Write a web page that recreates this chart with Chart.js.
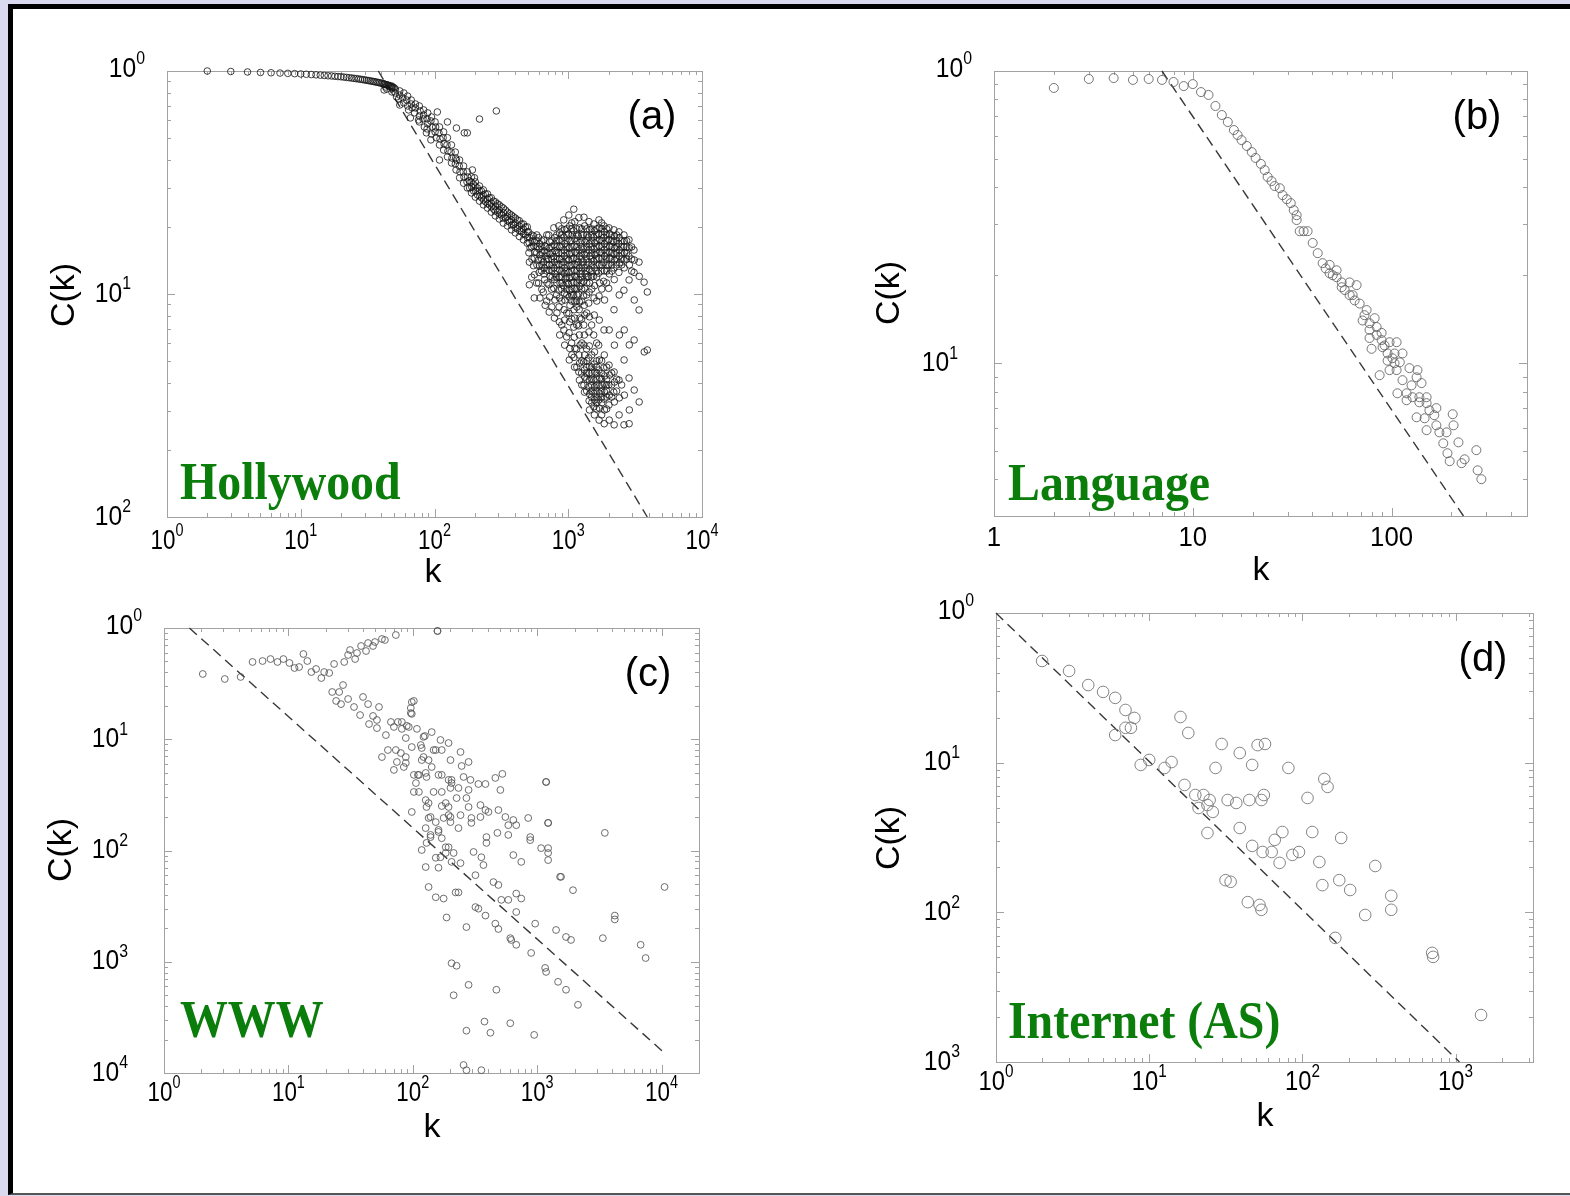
<!DOCTYPE html>
<html>
<head>
<meta charset="utf-8">
<title>C(k) versus k</title>
<script src="https://cdn.jsdelivr.net/npm/chart.js@4.4.1/dist/chart.umd.min.js"></script>
<style>
  html, body { margin: 0; padding: 0; width: 1570px; height: 1196px; overflow: hidden; background: #d9d9f0; }
  #sheet { position: absolute; left: 8px; top: 4px; width: 1562px; height: 1191px; box-sizing: border-box;
           background: #fff; border-left: 5px solid #000; border-top: 5px solid #000; border-bottom: 2px solid #555; }
  canvas { position: absolute; left: 0; top: 0; }
</style>
</head>
<body>
<div id="sheet"></div>
<canvas id="pa" width="1570" height="1196"></canvas>
<canvas id="pb" width="1570" height="1196"></canvas>
<canvas id="pc" width="1570" height="1196"></canvas>
<canvas id="pd" width="1570" height="1196"></canvas>
<script>
// ---------- data: [k, C(k)] ----------
const hollywood = [
  [2,1],[3,.995],[4,.99],[5,.985],[6,.982],[7,.979],[8,.976],[9,.973],[10,.97],[11,.967],[12,.964],[13,.961],
  [14,.958],[15,.955],[16,.952],[17,.95],[18,.947],[19,.944],[20,.942],[21,.939],[22,.936],[23,.933],[24,.93],
  [25,.927],[26,.924],[27,.921],[28,.918],[29,.915],[30,.912],[31,.909],[32,.906],[33,.903],[34,.9],[35,.897],
  [36,.894],[37,.891],[38,.888],[39,.885],[40,.882],[41,.878],[42,.874],[43,.87],[44,.866],[45,.862],[46,.858],
  [47,.853],[48,.849],[49,.845],[50,.84],
  [42,.874],[43,.848],[42,.822],[45,.865],[44,.83],[48,.856],[48,.806],[48,.839],[51,.83],[51,.797],[52,.765],
  [55,.814],[55,.78],[54,.749],[55,.704],[59,.797],[58,.757],[59,.719],[63,.772],[62,.741],[63,.697],[64,.669],
  [67,.741],[67,.711],[68,.683],[66,.616],[72,.711],[72,.683],[71,.649],[77,.697],[78,.662],[77,.629],[76,.603],
  [83,.669],[83,.635],[82,.61],[84,.561],[89,.649],[88,.61],[89,.579],[88,.55],
  [95,.622],[94,.597],[96,.561],[95,.522],[94,.491],[101,.591],[102,.561],[101,.533],[103,.502],
  [109,.561],[108,.528],[110,.496],[109,.466],[117,.533],[116,.502],[118,.471],[117,.442],
  [125,.502],[124,.466],[126,.438],[125,.412],[134,.466],[133,.433],[135,.407],[134,.387],
  [143,.433],[144,.407],[143,.383],[145,.36],[154,.399],[153,.375],[155,.353],[154,.332],
  [165,.375],[164,.353],[166,.335],[165,.314],[176,.353],[177,.335],[175,.318],[176,.299],
  [189,.335],[188,.318],[190,.302],[189,.284],[202,.318],[201,.305],[203,.29],[202,.272],
  [217,.305],[216,.29],[218,.275],[217,.261],[232,.293],[231,.278],[233,.264],[232,.251],
  [249,.281],[248,.267],[250,.254],[249,.243],[266,.27],[265,.256],[267,.246],[266,.233],
  [285,.259],[286,.248],[284,.236],[285,.224],[305,.251],[304,.238],[306,.228],[305,.217],
  [327,.243],[328,.231],[326,.219],[327,.208],[351,.233],[350,.222],[352,.213],[351,.202],
  [376,.226],[375,.215],[377,.204],[376,.194],[402,.219],[401,.208],[403,.198],[402,.188],
  [431,.213],[430,.202],[432,.192],[431,.181],[462,.206],[461,.196],[463,.186],[462,.175],
  [494,.2],[493,.19],[495,.179],[494,.169],
  [182,.322],[183,.299],[195,.311],[196,.29],[209,.299],[210,.278],[224,.29],[225,.27],[240,.281],[241,.259],
  [257,.27],[258,.251],[276,.261],[277,.24],[295,.254],[296,.233],[316,.246],[317,.226],[339,.238],[340,.219],
  [363,.229],[364,.2106],[389,.222],[390,.204],[416,.215],[417,.196],[446,.2061],[447,.19],[478,.1998],[479,.184],
  [217,.609],[290,.662],[125,.591],[167,.528],[146,.555],[176,.528],[105,.655],[77,.591],[87,.528],
  [146,.399],[192,.36],[199,.332],[109,.399],
  [505,.19],[515,.179],[510,.17],[518,.161],[508,.153],[512,.139],[512,.11],
  [534,.184],[536,.173],[532,.163],[535,.1435],[533,.119],
  [550,.182],[560,.171],[553,.164],[562,.154],[556,.145],[549,.134],[558,.122],[557,.096],
  [582,.184],[580,.173],[584,.163],[581,.153],[583,.135],[580,.112],
  [600,.179],[612,.168],[604,.159],[615,.15],[598,.142],[610,.134],[606,.125],[600,.112],[614,.096],
  [634,.173],[632,.163],[636,.153],[633,.1435],[635,.135],[631,.127],[634,.105],
  [655,.175],[668,.164],[660,.156],[670,.148],[652,.139],[664,.131],[658,.123],[666,.116],[650,.102],[672,.089],
  [691,.184],[689,.163],[693,.153],[690,.1435],[692,.135],[688,.127],[694,.112],[690,.093],
  [715,.184],[728,.171],[720,.161],[730,.151],[712,.1435],[725,.135],[718,.128],[732,.12],[716,.11],[726,.097],[720,.083],
  [754,.173],[752,.163],[756,.153],[751,.1435],[755,.135],[753,.127],[757,.119],[750,.105],[754,.0875],
  [780,.198],[792,.179],[784,.166],[795,.156],[778,.147],[790,.139],[782,.131],[796,.123],[786,.116],[780,.106],[794,.094],[788,.078],
  [821,.184],[819,.173],[823,.163],[818,.153],[822,.1435],[820,.135],[824,.127],[817,.119],[821,.112],[819,.099],[823,.0822],
  [850,.202],[862,.188],[855,.175],[866,.163],[848,.153],[860,.1435],[852,.136],[864,.128],[856,.119],[868,.112],[850,.104],
  [861,.096],[854,.0875],[858,.075],[863,.0655],
  [894,.196],[892,.184],[896,.1732],[893,.1626],[895,.1527],[891,.1435],[897,.135],[894,.1267],[892,.1192],[896,.1121],
  [893,.1053],[895,.093],[894,.0726],
  [925,.215],[940,.194],[930,.18],[945,.168],[928,.1575],[938,.148],[922,.139],[942,.131],[932,.124],[948,.117],[926,.109],
  [936,.101],[944,.094],[930,.085],[938,.0764],[928,.069],[940,.059],
  [975,.196],[973,.184],[977,.1732],[974,.1626],[976,.1527],[972,.1435],[978,.135],[975,.1267],[973,.1192],[977,.1121],
  [974,.1053],[976,.099],[975,.0822],[973,.0642],
  [1010,.226],[1025,.202],[1005,.186],[1030,.173],[1015,.161],[1022,.151],[1008,.142],[1028,.134],[1012,.125],[1020,.118],
  [1004,.111],[1026,.104],[1016,.097],[1030,.089],[1010,.082],[1022,.075],[1014,.067],[1026,.057],[1018,.0506],
  [1062,.2084],[1060,.196],[1064,.184],[1061,.1732],[1063,.1626],[1059,.1527],[1065,.1435],[1062,.135],[1060,.1267],
  [1064,.1192],[1061,.1121],[1063,.1053],[1059,.099],[1062,.093],[1064,.0772],[1060,.0603],[1063,.0533],
  [1100,.24],[1120,.211],[1095,.192],[1115,.177],[1105,.164],[1125,.154],[1098,.145],[1118,.136],[1108,.128],[1122,.12],
  [1102,.113],[1112,.106],[1096,.099],[1120,.092],[1106,.085],[1116,.078],[1100,.071],[1110,.064],[1122,.057],[1104,.052],[1114,.047],
  [1157,.196],[1155,.184],[1159,.1732],[1156,.1626],[1158,.1527],[1154,.1435],[1160,.135],[1157,.1267],[1155,.1192],
  [1159,.1121],[1156,.1053],[1158,.099],[1154,.093],[1160,.0875],[1157,.0726],[1155,.0567],[1159,.047],
  [1200,.22],[1215,.198],[1190,.182],[1225,.17],[1205,.1575],[1218,.148],[1195,.139],[1212,.131],[1228,.123],[1202,.116],
  [1220,.108],[1198,.1],[1214,.092],[1206,.085],[1222,.078],[1196,.072],[1210,.0655],[1226,.059],[1204,.0533],[1216,.049],
  [1200,.0447],[1212,.0411],
  [1261,.196],[1259,.184],[1263,.1732],[1260,.1626],[1262,.1527],[1258,.1435],[1264,.135],[1261,.1267],[1259,.1192],
  [1263,.1121],[1260,.1053],[1262,.093],[1258,.0772],[1264,.0603],[1261,.0501],[1259,.0442],[1263,.0391],
  [1310,.221],[1325,.202],[1300,.184],[1330,.171],[1308,.159],[1320,.15],[1296,.139],[1316,.131],[1335,.123],[1305,.114],
  [1322,.106],[1300,.098],[1318,.089],[1328,.0805],[1306,.0726],[1320,.0655],[1312,.059],[1326,.0533],[1304,.0496],
  [1318,.0456],[1330,.0424],[1310,.039],[1322,.0363],
  [1374,.196],[1372,.184],[1376,.1732],[1373,.1626],[1375,.1527],[1371,.1435],[1377,.135],[1374,.1267],[1372,.1192],
  [1376,.1121],[1373,.099],[1375,.0822],[1371,.0567],[1377,.0501],[1374,.047],[1372,.0442],[1376,.0415],[1373,.0367],
  [1430,.211],[1445,.194],[1420,.18],[1440,.168],[1428,.1575],[1450,.148],[1425,.139],[1438,.129],[1418,.12],[1446,.112],
  [1432,.102],[1422,.091],[1440,.079],[1428,.0676],[1436,.0585],[1424,.0517],[1442,.0475],[1430,.0442],[1438,.0411],
  [1426,.0383],[1444,.0356],[1432,.0332],[1440,.0302],
  [1497,.196],[1495,.184],[1499,.1732],[1496,.1626],[1498,.1527],[1494,.1435],[1500,.135],[1497,.1267],[1495,.1192],
  [1499,.1053],[1496,.0726],[1498,.0533],[1494,.047],[1500,.0442],[1497,.0415],[1495,.0391],[1499,.0367],[1496,.0345],[1498,.0325],
  [1555,.206],[1570,.192],[1548,.18],[1575,.1695],[1560,.159],[1580,.15],[1552,.1405],[1568,.131],[1545,.12],[1575,.109],
  [1558,.096],[1566,.0805],[1550,.0655],[1572,.055],[1560,.0485],[1578,.0447],[1554,.0411],[1570,.0383],[1562,.0359],
  [1576,.0335],[1556,.0312],[1568,.0287],
  [1632,.196],[1630,.184],[1634,.1732],[1631,.1626],[1633,.1527],[1629,.1435],[1635,.135],[1632,.1267],[1630,.1192],
  [1634,.093],[1631,.0603],[1633,.0501],[1629,.047],[1635,.0442],[1632,.0415],[1630,.0391],[1634,.0367],[1631,.0345],
  [1633,.0325],[1629,.0305],
  [1695,.215],[1712,.198],[1688,.186],[1718,.175],[1700,.164],[1722,.154],[1692,.145],[1708,.135],[1685,.124],[1715,.112],
  [1698,.098],[1706,.0764],[1690,.059],[1710,.0506],[1696,.0456],[1720,.042],[1702,.0387],[1714,.0359],[1694,.0335],
  [1708,.0308],[1700,.0272],
  [1778,.2084],[1776,.196],[1780,.184],[1777,.1732],[1779,.1626],[1775,.1527],[1781,.1435],[1778,.135],[1776,.1267],
  [1780,.1053],[1777,.0501],[1779,.0442],[1775,.0415],[1781,.0391],[1778,.0367],[1776,.0345],[1780,.0325],[1777,.0287],
  [1850,.202],[1865,.19],[1842,.179],[1870,.168],[1855,.1575],[1875,.148],[1848,.138],[1862,.127],[1840,.114],[1868,.094],
  [1852,.069],[1860,.0533],[1846,.0466],[1872,.0429],[1856,.0395],[1866,.0363],[1850,.0338],[1862,.0302],[1858,.0262],
  [1937,.196],[1935,.184],[1939,.1732],[1936,.1626],[1938,.1527],[1934,.1435],[1940,.135],[1937,.1267],[1935,.1121],
  [1939,.047],[1936,.0415],[1938,.0391],[1934,.0367],[1940,.0345],[1937,.0305],
  [2015,.198],[2032,.186],[2008,.175],[2038,.164],[2020,.154],[2040,.145],[2012,.135],[2028,.123],[2005,.106],[2024,.069],
  [2018,.048],[2036,.0433],[2010,.0391],[2030,.0352],[2016,.0318],[2026,.0272],
  [2112,.184],[2110,.1732],[2114,.1626],[2111,.1527],[2113,.1435],[2109,.135],[2115,.1267],[2112,.0442],[2110,.0391],[2114,.0345],
  [2195,.194],[2212,.182],[2188,.171],[2220,.161],[2200,.151],[2215,.142],[2190,.131],[2208,.116],[2198,.085],[2214,.059],
  [2202,.0447],[2218,.0403],[2192,.0363],[2210,.0328],[2204,.0259],
  [2301,.184],[2299,.1732],[2303,.1626],[2300,.1527],[2302,.1435],[2298,.135],[2301,.0415],[2299,.0367],
  [2395,.19],[2410,.179],[2388,.168],[2415,.1575],[2398,.148],[2420,.138],[2392,.125],[2405,.099],[2412,.0655],[2396,.0411],
  [2408,.0342],[2400,.0287],
  [2507,.1732],[2505,.1626],[2509,.1527],[2506,.1435],[2508,.135],[2507,.0391],
  [2610,.184],[2625,.173],[2605,.163],[2630,.153],[2612,.142],[2620,.131],[2608,.104],[2622,.069],[2615,.0506],[2628,.0352],[2610,.0259],
  [2733,.1732],[2731,.1626],[2735,.1527],[2732,.1435],
  [2845,.175],[2860,.161],[2840,.148],[2865,.135],[2850,.1156],[2858,.0591],[2848,.042],[2862,.0302],[2852,.0262],
  [2978,.1626],[2976,.1435],[2980,.1267],
  [3100,.1575],[3120,.142],[3105,.125],[3115,.094],[3108,.0622],[3112,.0371],
  [3380,.139],[3395,.12],[3385,.0848],[3390,.0328],[3690,.113],[3700,.055],[3900,.1021],[3900,.0561]
];

const language = [
  [2,.875],[3,.939],[4,.946],[5,.932],[6,.939],[7,.932],[8,.917],[9,.888],[10,.902],[11,.847],[12,.828],[13,.759],[14,.707],[15,.669],
  [16.1,.628],[16.8,.604],[17.6,.58],[18.7,.554],[19.8,.528],[20.7,.504],[22,.481],[23,.458],[23.8,.434],[24.9,.42],[25.8,.404],
  [27.4,.397],[28.3,.376],[29.7,.364],[31.1,.353],[32.2,.334],[33.3,.321],[33.3,.309],[34.5,.283],[36.1,.283],[37.8,.283],
  [40.1,.258],[42.5,.238],[45,.22],[46.6,.211],[48.8,.217],[48.8,.203],[50.6,.2],[52.9,.208],[52.9,.197],[56.1,.189],[56.1,.182],
  [58.1,.178],[61.5,.189],[61.5,.171],[63.7,.171],[65.2,.164],[66.7,.185],[69.1,.16],[71.5,.14],[73.1,.146],[74.9,.152],
  [77.5,.137],[77.5,.13],[77.5,.122],[79.3,.112],[82.2,.1426],[84.1,.133],[84.1,.125],[87.1,.091],[89.1,.127],[89.1,.12],
  [90.1,.1135],[92.2,.115],[95.5,.108],[95.5,.102],[97.7,.118],[97.7,.0947],[101,.104],[103.5,.108],[103.5,.1],[106,.118],
  [106,.0947],[107,.0789],[110,.1007],[113.5,.108],[113.5,.0875],[119,.0789],[119,.0747],[123,.0962],[126,.084],[127.5,.0765],
  [133.6,.0895],[133.6,.0653],[135,.0947],[138,.0765],[138,.0735],[141.5,.0855],[146.6,.0648],[150,.0765],[150,.073],[150,.059],
  [155,.069],[164,.0664],[168,.0702],[168,.0613],[174,.058],[182,.0532],[189,.058],[191,.0492],[196,.0462],[203,.0669],
  [205,.0613],[217,.0536],[225,.0455],[233,.0469],[267,.0504],[271,.043],[283,.0401]
];

const www = [
  [2.05,.386],[3.08,.348],[4.13,.363],[5.15,.495],[6.2,.505],[7.18,.526],[8.17,.495],[9.12,.526],[10.2,.485],[11.2,.437],
  [12.2,.446],[13.2,.584],[14.2,.505],[15.3,.402],[16.7,.428],[18.4,.355],[19.4,.402],[21.3,.394],[23.3,.475],[28.1,.495],
  [30.2,.572],[31.3,.634],[34.4,.526],[35.6,.596],[38.4,.689],[42.1,.621],[43.7,.733],[47.9,.689],[49.7,.748],[56.5,.797],
  [59.7,.78],[73.1,.865],[158,.94],[158,.94],
  [22.5,.266],[25.6,.266],[27.5,.307],[24.2,.221],[26.5,.207],[30.2,.23],[33.7,.195],[37.7,.165],[39.8,.24],[43.7,.207],
  [44.5,.137],[47.9,.162],[51.5,.149],[53.5,.195],[51.5,.126],[56.5,.0692],[60.8,.109],[66.7,.143],[70.5,.129],[75.9,.143],
  [81.7,.124],[89.5,.132],[96.4,.172],[96.4,.191],[102,.221],[108,.124],[125,.107],[142,.116],[167,.0985],[194,.0925],
  [63.1,.08],[73.1,.08],[80.2,.0752],[87.9,.0692],[74.5,.0625],[87.9,.0612],[98.2,.0851],[116,.0887],[118,.0834],[122,.0692],
  [134,.065],[153,.08],[171,.08],[201,.065],[70.5,.053],[84.7,.0563],[102,.0478],[112,.0478],[127,.0498],[106,.0404],
  [112,.0336],[102,.0336],[127,.0284],[98.2,.0222],[134,.0267],[147,.0336],[171,.0478],[194,.0431],[171,.0336],[184,.0267],
  [205,.0404],[134,.0196],[153,.018],[177,.0196],[194,.0208],[127,.0159],[139,.0132],[161,.0153],[171,.0129],[201,.018],
  [118,.0101],[153,.0086],[167,.0087],[194,.0107],[184,.0095],
  [98.2,.216],[98.2,.169],[81.7,.143],[92.9,.129],[122,.105],[87.9,.1026],[147,.08],[242,.0768],[118,.065],[281,.0625],
  [247,.0575],[142,.0563],[110,.0478],[129,.0458],[161,.0478],[205,.0431],[256,.0458],[291,.0431],[337,.0396],[384,.0396],
  [461,.0449],[525,.0488],[506,.035],[281,.035],[201,.0365],[233,.0365],[270,.0296],[225,.0296],[281,.0246],[350,.0256],
  [384,.0231],[194,.0246],[171,.0251],[129,.0246],[139,.02],[201,.02],[242,.0208],[296,.0196],[350,.02],[406,.0222],
  [488,.0231],[555,.02],[643,.0188],[586,.0169],[679,.0169],[847,.0196],[1180,.0413],[1180,.0413],[1225,.0177],[1225,.0177],
  [3499,.0144],[139,.0138],[161,.0147],[233,.0159],[296,.0177],[391,.0132],[479,.0144],[586,.0138],[129,.0117],[184,.0107],
  [213,.0095],[308,.0097],[356,.0087],[391,.0117],[643,.0091],[745,.0079],[879,.0124],[879,.0132],[1076,.0105],[1225,.0105],
  [1225,.0095],[1225,.0082],[1528,.0058],[1556,.0058],[1941,.0044],[127,.0071],[161,.007],[205,.0079],[242,.0077],[319,.006],
  [370,.0074],[445,.0052],[488,.0049],[515,.0036],[586,.0036],[679,.0041],[745,.0037],[679,.0028],[134,.0047],[153,.0038],
  [177,.0037],[221,.0042],[233,.0042],[319,.0031],[337,.003],[384,.0026],[187,.0025],[270,.00205],[461,.0022],[488,.00197],
  [608,.00163],[619,.00157],[679,.00142],[895,.0012],[964,.0022],[1159,.00088],[1180,.00081],[1419,.00193],[1706,.00167],
  [1871,.00157],[1472,.00066],[1706,.00056],[2128,.00041],[3373,.00163],[4207,.0026],[4207,.0024],[6792,.00142],[7447,.00108],
  [10570,.0047],[205,.00097],[225,.00092],[281,.00062],[213,.0005],[470,.00056],[377,.00029],[608,.00028],[421,.00023],
  [270,.00024],[946,.00022],[256,.000118],[270,.000106],[356,.000106]
];

const internetAS = [
  [2,.478],[3,.41],[4,.33],[5,.297],[6,.271],[7,.225],[8,.199],[6,.153],[7,.171],[7.6,.171],[8.8,.0966],[10,.1043],
  [12.6,.0922],[14,.101],[16,.202],[18,.158],[17,.071],[20,.0608],[21,.0498],[24,.0521],[22.6,.0608],[24.8,.0563],
  [27.1,.0922],[29.7,.1333],[26,.0469],[24,.0339],[32.5,.0563],[37,.0538],[39,.0366],[39,.116],[45,.0563],[47,.0966],
  [51,.131],[54,.0563],[56,.0608],[57,.1333],[47,.0278],[55,.0253],[31.5,.0164],[34,.016],[44,.0117],[52.5,.0112],
  [54,.0104],[63,.0253],[66,.0305],[71,.0214],[74,.0344],[81,.0922],[86,.0242],[95,.0253],[108,.0581],[116,.0344],
  [129,.0217],[139,.0778],[146,.0689],[135,.0152],[179,.0314],[174,.0164],[205,.0141],[299,.0204],[257,.0096],
  [380,.0129],[380,.0104],[164,.00675],[703,.00536],[713,.00504],[1466,.00206]
];

// dashed reference lines, C ~ A/k: end points [k, C]
const hollywoodFit  = [[38, 1], [3900, 0.01]];
const languageFit   = [[7, 1], [230, 0.03]];
const wwwFit        = [[1.6, 1], [10300, 1.55e-4]];
const internetASFit = [[1, 1], [1060, 0.001]];

// axis ranges
const rangeA = { kMin: 1, kMax: 1e4, cMin: 0.01, cMax: 1 };
const rangeB = { kMin: 1, kMax: 480, cMin: 0.03, cMax: 1 };
const rangeC = { kMin: 1, kMax: 2e4, cMin: 1e-4, cMax: 1 };
const rangeD = { kMin: 1, kMax: 3200, cMin: 1e-3, cMax: 1 };

// tick labels: value and exponent (power-of-ten labels), or plain text
const xTicksA = [[1,'0'],[10,'1'],[100,'2'],[1000,'3'],[10000,'4']];
const yTicksA = [[1,'0'],[0.1,'1'],[0.01,'2']];
const xTicksB = [[1,'1'],[10,'10'],[100,'100']];
const yTicksB = [[1,'0'],[0.1,'1']];
const xTicksC = [[1,'0'],[10,'1'],[100,'2'],[1000,'3'],[10000,'4']];
const yTicksC = [[1,'0'],[0.1,'1'],[0.01,'2'],[0.001,'3'],[0.0001,'4']];
const xTicksD = [[1,'0'],[10,'1'],[100,'2'],[1000,'3']];
const yTicksD = [[1,'0'],[0.1,'1'],[0.01,'2'],[0.001,'3']];

const names = ['Hollywood', 'Language', 'WWW', 'Internet (AS)'];
const tags = ['(a)', '(b)', '(c)', '(d)'];

// ---------- drawing ----------
const SANS = '"Liberation Sans", Arial, Helvetica, sans-serif';
const SERIF = '"Liberation Serif", "Times New Roman", Times, serif';
const W = 1570, H = 1196;

function powLabel(ctx, x, y, base, exp, size, sx, align) {
  ctx.save();
  ctx.translate(x, y);
  ctx.scale(sx, 1);
  ctx.fillStyle = '#000';
  ctx.textBaseline = 'middle';
  ctx.textAlign = 'left';
  const es = Math.round(size * 0.64);
  ctx.font = size + 'px ' + SANS;
  const wb = ctx.measureText(base).width;
  let we = 0;
  if (exp !== null) { ctx.font = es + 'px ' + SANS; we = ctx.measureText(exp).width; }
  const w = wb + we;
  const x0 = align === 'center' ? -w / 2 : (align === 'right' ? -w : 0);
  ctx.font = size + 'px ' + SANS;
  ctx.fillText(base, x0, 0);
  if (exp !== null) {
    ctx.font = es + 'px ' + SANS;
    ctx.fillText(exp, x0 + wb, -size * 0.34);
  }
  ctx.restore();
}

function minorSteps(min, max) {
  const out = [];
  for (let e = Math.floor(Math.log10(min)) - 1; e <= Math.ceil(Math.log10(max)); e++) {
    for (let m = 1; m < 10; m++) {
      const v = m * Math.pow(10, e);
      if (v >= min * 0.9999 && v <= max * 1.0001) out.push([v, m === 1]);
    }
  }
  return out;
}

const axesFrame = {
  id: 'axesFrame',
  beforeDatasetsDraw(chart) {
    const { ctx, chartArea: a, scales } = chart;
    const xs = scales.x, ys = scales.y;
    ctx.save();
    ctx.strokeStyle = '#a2a2a2';
    ctx.lineWidth = 1;
    ctx.strokeRect(a.left + 0.5, a.top + 0.5, a.right - a.left, a.bottom - a.top);
    ctx.beginPath();
    for (const [v, major] of minorSteps(xs.min, xs.max)) {
      const p = Math.round(xs.getPixelForValue(v)) + 0.5;
      const len = major ? 8 : 4;
      ctx.moveTo(p, a.bottom); ctx.lineTo(p, a.bottom - len);
      ctx.moveTo(p, a.top); ctx.lineTo(p, a.top + len);
    }
    for (const [v, major] of minorSteps(ys.min, ys.max)) {
      const p = Math.round(ys.getPixelForValue(v)) + 0.5;
      const len = major ? 8 : 4;
      ctx.moveTo(a.left, p); ctx.lineTo(a.left + len, p);
      ctx.moveTo(a.right, p); ctx.lineTo(a.right - len, p);
    }
    ctx.stroke();
    ctx.restore();
  },
  afterDraw(chart) {
    const o = chart.options.plugins.axesFrame;
    const { ctx, chartArea: a, scales } = chart;
    const xs = scales.x, ys = scales.y;
    // x tick labels
    for (const [v, t] of o.xTicks) {
      const px = xs.getPixelForValue(v);
      if (o.plainX) powLabel(ctx, px, o.xLabelY, t, null, 28, o.xScale, 'center');
      else powLabel(ctx, px, o.xLabelY, '10', t, 28, o.xScale, 'center');
    }
    // y tick labels
    for (const [v, t] of o.yTicks) {
      const py = ys.getPixelForValue(v);
      const top = v === ys.max;
      powLabel(ctx, a.left - (top ? 22 : 36), py - (top ? 2 : 0), '10', t, 28, o.yScale, 'right');
    }
    ctx.save();
    ctx.fillStyle = '#000';
    ctx.textAlign = 'center';
    ctx.textBaseline = 'middle';
    ctx.font = '34px ' + SANS;
    ctx.fillText('k', o.kPos[0], o.kPos[1]);
    ctx.save();
    ctx.translate(o.cPos[0], o.cPos[1]);
    ctx.rotate(-Math.PI / 2);
    ctx.fillText('C(k)', 0, 0);
    ctx.restore();
    ctx.font = '40px ' + SANS;
    ctx.fillText(o.tag, o.tagPos[0], o.tagPos[1]);
    // network name
    ctx.save();
    ctx.translate(o.namePos[0], o.namePos[1]);
    ctx.scale(0.92, 1);
    ctx.textAlign = 'left';
    ctx.textBaseline = 'alphabetic';
    ctx.font = 'bold 52px ' + SERIF;
    ctx.fillStyle = '#0b7d0b';
    ctx.fillText(o.name, 0, 0);
    ctx.restore();
    ctx.restore();
  }
};

function panel(id, rect, range, points, fit, look, labels) {
  return new Chart(document.getElementById(id), {
    type: 'scatter',
    data: {
      datasets: [
        {
          data: points.map(p => ({ x: p[0], y: p[1] })),
          pointRadius: look.r,
          pointHoverRadius: look.r,
          pointBorderWidth: 1,
          pointBorderColor: look.color,
          pointBackgroundColor: 'rgba(0,0,0,0)',
          clip: false
        },
        {
          data: fit.map(p => ({ x: p[0], y: p[1] })),
          showLine: true,
          borderColor: '#383838',
          borderWidth: 1.4,
          borderDash: [10, 6],
          pointRadius: 0,
          fill: false,
          clip: false
        }
      ]
    },
    options: {
      responsive: false,
      animation: false,
      devicePixelRatio: 1,
      events: [],
      layout: { padding: { left: rect[0], top: rect[1], right: W - rect[2], bottom: H - rect[3] } },
      plugins: { legend: { display: false }, tooltip: { enabled: false }, axesFrame: labels },
      scales: {
        x: { type: 'logarithmic', min: range.kMin, max: range.kMax, display: false },
        y: { type: 'logarithmic', min: range.cMin, max: range.cMax, display: false }
      }
    },
    plugins: [axesFrame]
  });
}

panel('pa', [167, 71, 702, 517], rangeA, hollywood, hollywoodFit,
  { r: 3.3, color: 'rgba(20,20,20,0.8)' },
  { xTicks: xTicksA, yTicks: yTicksA, xLabelY: 541, xScale: 0.8, yScale: 0.88,
    kPos: [433, 573], cPos: [65, 295], tag: tags[0], tagPos: [652, 118], name: names[0], namePos: [180, 499] });

panel('pb', [994, 71, 1527, 516], rangeB, language, languageFit,
  { r: 4.5, color: 'rgba(95,95,95,0.85)' },
  { xTicks: xTicksB, yTicks: yTicksB, xLabelY: 538, xScale: 0.92, plainX: true, yScale: 0.88,
    kPos: [1261, 571], cPos: [890, 293], tag: tags[1], tagPos: [1477, 118], name: names[1], namePos: [1008, 500] });

panel('pc', [164, 628, 699, 1073], rangeC, www, wwwFit,
  { r: 3.4, color: 'rgba(85,85,85,0.85)' },
  { xTicks: xTicksC, yTicks: yTicksC, xLabelY: 1093, xScale: 0.8, yScale: 0.88,
    kPos: [432, 1128], cPos: [62, 850], tag: tags[2], tagPos: [648, 675], name: names[2], namePos: [180, 1037] });

panel('pd', [996, 613, 1533, 1062], rangeD, internetAS, internetASFit,
  { r: 5.8, color: 'rgba(120,120,120,0.9)' },
  { xTicks: xTicksD, yTicks: yTicksD, xLabelY: 1082, xScale: 0.85, yScale: 0.88,
    kPos: [1265, 1117], cPos: [890, 838], tag: tags[3], tagPos: [1483, 660], name: names[3], namePos: [1008, 1038] });
</script>
</body>
</html>
